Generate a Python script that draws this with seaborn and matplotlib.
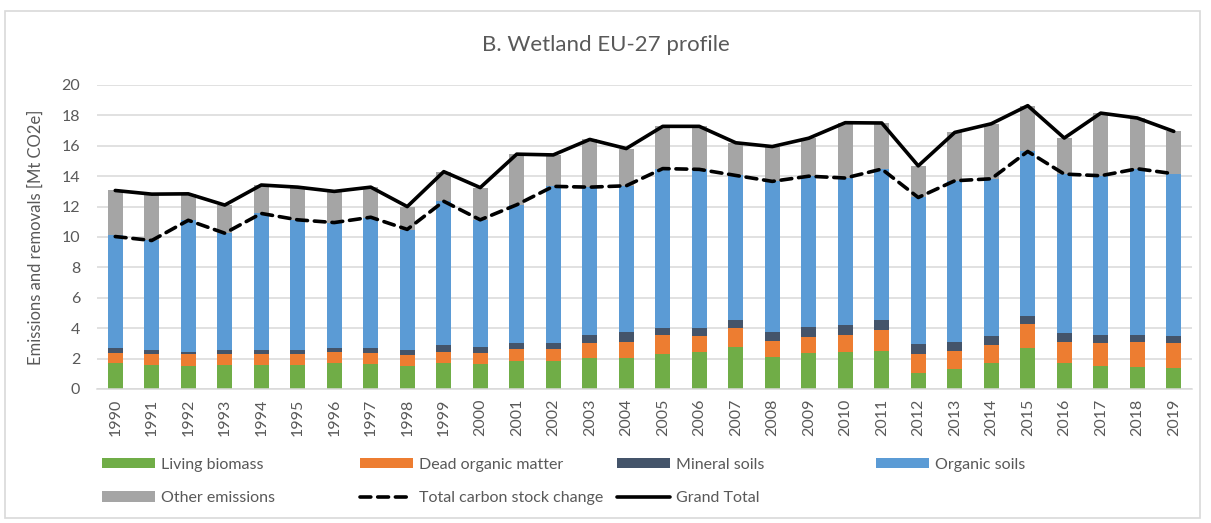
import numpy as np
import pandas as pd
import matplotlib
matplotlib.use("Agg")
import matplotlib.pyplot as plt
import seaborn as sns
from matplotlib.patches import Patch, Rectangle
from matplotlib.lines import Line2D

# ---------------- data (Mt CO2e) ----------------
years = [str(y) for y in range(1990, 2020)]

living_biomass = [1.69, 1.58, 1.54, 1.58, 1.58, 1.58, 1.69, 1.65, 1.54, 1.69,
                  1.65, 1.84, 1.84, 2.02, 2.02, 2.30, 2.41, 2.79, 2.09, 2.35,
                  2.43, 2.52, 1.08, 1.30, 1.69, 2.68, 1.69, 1.54, 1.47, 1.41]
dead_organic_matter = [0.66, 0.72, 0.76, 0.72, 0.72, 0.72, 0.72, 0.70, 0.68, 0.72,
                       0.74, 0.82, 0.77, 0.98, 1.10, 1.26, 1.10, 1.25, 1.09, 1.10,
                       1.13, 1.37, 1.20, 1.22, 1.23, 1.60, 1.43, 1.47, 1.65, 1.64]
mineral_soils = [0.37, 0.27, 0.16, 0.27, 0.27, 0.27, 0.27, 0.33, 0.35, 0.47,
                 0.35, 0.39, 0.39, 0.56, 0.63, 0.48, 0.53, 0.50, 0.57, 0.63,
                 0.66, 0.65, 0.66, 0.60, 0.59, 0.53, 0.55, 0.55, 0.44, 0.46]
organic_soils = [7.38, 7.24, 8.67, 7.68, 9.00, 8.56, 8.27, 8.56, 7.90, 9.46,
                 8.39, 9.07, 10.33, 9.72, 9.62, 10.46, 10.41, 9.51, 9.91, 9.92,
                 9.66, 9.93, 9.66, 10.58, 10.32, 10.82, 10.47, 10.47, 10.93, 10.65]
other_emissions = [2.96, 3.01, 1.71, 1.85, 1.85, 2.15, 2.05, 2.04, 1.50, 1.96,
                   2.12, 3.33, 2.07, 3.14, 2.45, 2.78, 2.83, 2.15, 2.29, 2.50,
                   3.64, 3.03, 2.08, 3.18, 3.62, 3.01, 2.37, 4.12, 3.34, 2.79]

total_carbon_stock_change = [10.03, 9.77, 11.10, 10.25, 11.55, 11.13, 10.95, 11.30, 10.50, 12.35,
                             11.13, 12.12, 13.33, 13.28, 13.37, 14.50, 14.45, 14.05, 13.66, 14.00,
                             13.88, 14.47, 12.60, 13.70, 13.83, 15.63, 14.14, 14.03, 14.49, 14.16]
grand_total = [13.06, 12.82, 12.84, 12.10, 13.42, 13.28, 13.00, 13.28, 12.00, 14.30,
               13.25, 15.45, 15.40, 16.42, 15.82, 17.28, 17.28, 16.20, 15.95, 16.50,
               17.52, 17.50, 14.68, 16.88, 17.45, 18.64, 16.51, 18.15, 17.83, 16.95]

bar_series = [
    ("Living biomass", living_biomass, "#70AD47"),
    ("Dead organic matter", dead_organic_matter, "#ED7D31"),
    ("Mineral soils", mineral_soils, "#44546A"),
    ("Organic soils", organic_soils, "#5B9BD5"),
    ("Other emissions", other_emissions, "#A5A5A5"),
]

# ---------------- style ----------------
sns.set_style("white")
plt.rcParams['font.family'] = ['Lato', 'DejaVu Sans']
TXT = "#595959"
GRID = "#D9D9D9"

fig = plt.figure(figsize=(12.11, 5.23), dpi=100)
ax = fig.add_axes([97 / 1211, 1 - 389 / 523, 1095 / 1211, 304 / 523])

bottom = np.zeros(len(years))
for name, vals, col in bar_series:
    sns.barplot(x=years, y=vals, bottom=bottom, color=col, saturation=1,
                width=0.41, errorbar=None, ax=ax, linewidth=0)
    bottom = bottom + np.asarray(vals)

xpos = np.arange(len(years))
sns.lineplot(x=xpos, y=total_carbon_stock_change, color="black", linewidth=2.6,
             linestyle=(0, (3.0, 1.9)), dash_capstyle="round", ax=ax)
sns.lineplot(x=xpos, y=grand_total, color="black", linewidth=2.6,
             solid_capstyle="round", ax=ax)

ax.set_xlim(-0.5, len(years) - 0.5)
ax.set_ylim(0, 20)
ax.set_yticks(range(0, 21, 2))
ax.yaxis.grid(True, color=GRID, linewidth=1.1)
ax.xaxis.grid(False)
ax.set_axisbelow(True)
for s in ("top", "right", "left"):
    ax.spines[s].set_visible(False)
ax.spines["bottom"].set_color(GRID)
ax.spines["bottom"].set_linewidth(1.1)
ax.tick_params(axis="both", length=0, colors=TXT, labelsize=11.5)
ax.tick_params(axis="y", pad=12)
ax.tick_params(axis="x", pad=7, labelrotation=90)
ax.set_xlabel("")
ax.set_ylabel("Emissions and removals [Mt CO2e]", fontsize=12, color=TXT)
ax.yaxis.set_label_coords(-(97 - 44) / 1095, 0.5)

fig.text(0.5, 1 - 45 / 523, "B. Wetland EU-27 profile", ha="center", va="center",
         fontsize=16, color=TXT)

# legend: four columns of fixed positions
def bar_handle(i):
    return Patch(facecolor=bar_series[i][2], edgecolor="none", label=bar_series[i][0])

h_tcs = Line2D([], [], color="black", lw=2.6, linestyle=(0, (3.0, 1.9)),
               dash_capstyle="round", label="Total carbon stock change")
h_gt = Line2D([], [], color="black", lw=2.6, solid_capstyle="round", label="Grand Total")

columns = [
    (102, [bar_handle(0), bar_handle(4)]),
    (360, [bar_handle(1), h_tcs]),
    (617, [bar_handle(2), h_gt]),
    (876, [bar_handle(3)]),
]
for x0, hs in columns:
    fig.legend(handles=hs, loc="upper left", bbox_to_anchor=(x0 / 1211, 1 - 458 / 523),
               frameon=False, fontsize=11.5, labelcolor=TXT, borderpad=0,
               borderaxespad=0, handlelength=3.3, handleheight=0.6,
               handletextpad=0.4, labelspacing=1.2)

fig.patches.append(Rectangle((5 / 1211, 5 / 523), 1195 / 1211, 507 / 523,
                             transform=fig.transFigure, fill=False,
                             edgecolor=GRID, linewidth=1.2))

fig.savefig("out.png", dpi=100)
